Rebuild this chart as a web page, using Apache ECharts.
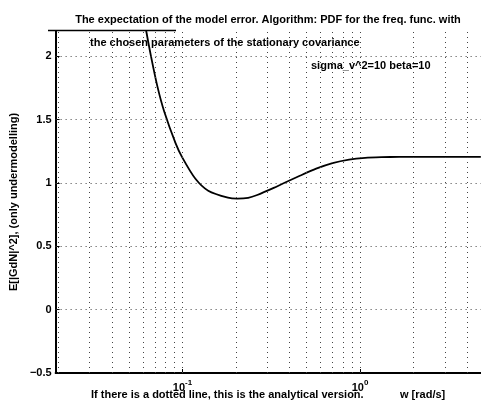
<!DOCTYPE html>
<html>
<head>
<meta charset="utf-8">
<script src="https://cdn.jsdelivr.net/npm/echarts@6/dist/echarts.min.js"></script>
<style>
  html, body { margin: 0; padding: 0; background: #fff; }
  #chart { width: 481px; height: 410px; }
</style>
</head>
<body>
<div id="chart"></div>
<script>
// Frequency points [rad/s] and expected model error E[|GdN|^2]
const freq = [0.0582, 0.0625, 0.0665, 0.0724, 0.0789, 0.0914, 0.0995, 0.118, 0.1396, 0.1803, 0.2042, 0.2344, 0.2636, 0.3266, 0.3707, 0.4581, 0.5662, 0.6998, 0.867, 1.069, 1.318, 1.66, 4.79];
const expErr = [2.45, 2.2, 2.0, 1.757, 1.565, 1.315, 1.204, 1.035, 0.939, 0.884, 0.877, 0.883, 0.905, 0.961, 0.998, 1.057, 1.113, 1.157, 1.185, 1.199, 1.204, 1.206, 1.207];

// Grid line positions
const xGridVals = [0.02, 0.03, 0.04, 0.05, 0.06, 0.07, 0.08, 0.09, 0.1, 0.2, 0.3, 0.4, 0.5, 0.6, 0.7, 0.8, 0.9, 1, 2, 3, 4];
const yGridVals = [0, 0.5, 1, 1.5, 2];
const yTicks = [-0.5, 0, 0.5, 1, 1.5, 2];

const FONT = 'Liberation Sans';
const chart = echarts.init(document.getElementById('chart'));

const gridLines = xGridVals.map(v => ({ xAxis: v }))
  .concat(yGridVals.map(v => ({ yAxis: v })));

chart.setOption({
  animation: false,
  backgroundColor: '#fff',
  textStyle: { fontFamily: FONT },
  title: {
    text: 'The expectation of the model error. Algorithm: PDF for the freq. func. with',
    left: 263, top: 9, textAlign: 'center',
    textStyle: { fontFamily: FONT, fontSize: 11, fontWeight: 'bold', color: '#000' }
  },
  grid: { left: 48, right: 0, top: 31, bottom: 37 },
  xAxis: {
    type: 'log', logBase: 10, min: 0.0193, max: 4.8,
    axisLine: { show: true, onZero: false, lineStyle: { color: '#000', width: 2 } },
    axisTick: { show: true, inside: true, length: 4, lineStyle: { color: '#000' } },
    splitLine: { show: false },
    axisLabel: {
      showMinLabel: false, showMaxLabel: false, margin: 6,
      formatter: function (v) {
        const e = Math.round(Math.log10(v));
        if (Math.abs(Math.log10(v) - e) > 1e-6) return '';
        return '{b|10}{s|' + (e < 0 ? '-' : '') + Math.abs(e) + '}';
      },
      rich: {
        b: { fontFamily: FONT, fontSize: 11, fontWeight: 'bold', color: '#000', verticalAlign: 'bottom' },
        s: { fontFamily: FONT, fontSize: 8, fontWeight: 'bold', color: '#000', verticalAlign: 'top', padding: [0, 0, 6, 0] }
      }
    }
  },
  yAxis: {
    type: 'value', min: -0.5, max: 2.2, interval: 0.5,
    name: 'E[|GdN|^2], (only undermodelling)',
    nameLocation: 'middle', nameGap: 31, nameRotate: 90,
    nameTextStyle: { fontFamily: FONT, fontSize: 11, fontWeight: 'bold', color: '#000' },
    axisLine: { show: true, onZero: false, lineStyle: { color: '#000', width: 2 } },
    axisTick: { show: true, inside: true, length: 4, lineStyle: { color: '#000' } },
    splitLine: { show: false },
    axisLabel: {
      showMaxLabel: false, margin: 4,
      fontFamily: FONT, fontSize: 11, fontWeight: 'bold', color: '#000',
      formatter: v => (yTicks.indexOf(v) >= 0 ? String(v).replace('-', '\u2212') : '')
    }
  },
  graphic: [
    { type: 'line', shape: { x1: 48, y1: 30.5, x2: 176, y2: 30.5 }, style: { stroke: '#000', lineWidth: 1.5 }, z: 10 },
    { type: 'text', left: 90, top: 37, style: { text: 'the chosen parameters of the stationary covariance', font: 'bold 11px ' + FONT, fill: '#000' }, z: 10 },
    { type: 'text', left: 311, top: 60, style: { text: 'sigma_v^2=10 beta=10', font: 'bold 11px ' + FONT, fill: '#000' }, z: 10 },
    { type: 'text', left: 91, top: 389, style: { text: 'If there is a dotted line, this is the analytical version.', font: 'bold 11px ' + FONT, fill: '#000' }, z: 10 },
    { type: 'text', left: 400, top: 389, style: { text: 'w [rad/s]', font: 'bold 11px ' + FONT, fill: '#000' }, z: 10 }
  ],
  series: [{
    type: 'line',
    data: freq.map((f, i) => [f, expErr[i]]),
    showSymbol: false,
    smooth: 0.25,
    clip: true,
    lineStyle: { color: '#000', width: 1.8 },
    markLine: {
      silent: true, symbol: 'none', animation: false,
      label: { show: false },
      lineStyle: { color: '#444', width: 1, type: [1, 4] },
      data: gridLines
    }
  }]
});
</script>
</body>
</html>
